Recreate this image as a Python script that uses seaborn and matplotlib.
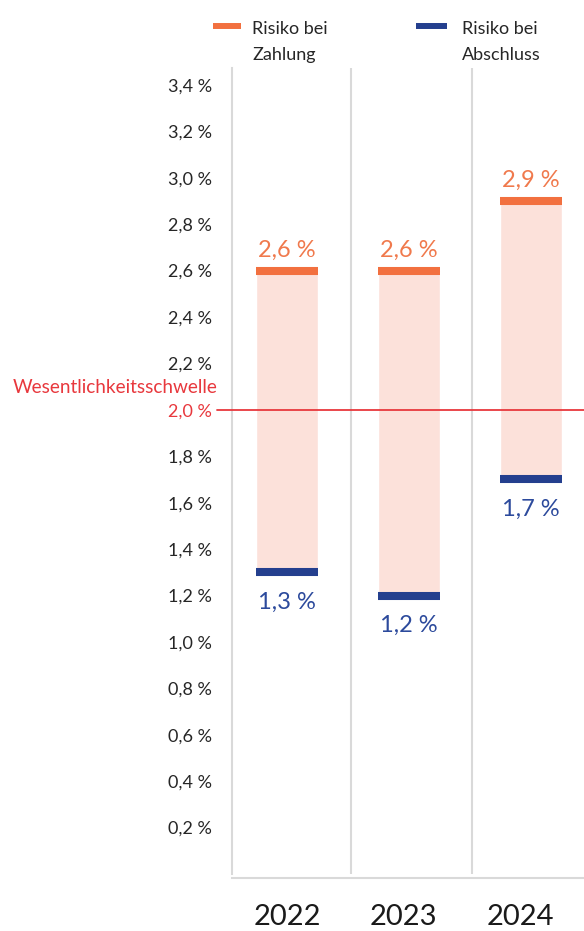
import matplotlib
matplotlib.use("Agg")
import matplotlib.pyplot as plt
from matplotlib.lines import Line2D
import numpy as np
import pandas as pd
import seaborn as sns

# Risk rates per year (in %)
years = ["2022", "2023", "2024"]
risk_payment = [2.6, 2.6, 2.9]    # Risiko bei Zahlung
risk_closing = [1.3, 1.2, 1.7]    # Risiko bei Abschluss
series_labels = ["Risiko bei\nZahlung", "Risiko bei\nAbschluss"]
threshold = 2.0
threshold_label = "Wesentlichkeitsschwelle"
y_ticks = [0.2, 0.4, 0.6, 0.8, 1.0, 1.2, 1.4, 1.6, 1.8, 2.0,
           2.2, 2.4, 2.6, 2.8, 3.0, 3.2, 3.4]

ORANGE = "#F2703F"
ORANGE_TXT = "#F0794C"
BLUE = "#243F8E"
BLUE_TXT = "#2C4A9C"
PINK = "#FCE1DA"
RED = "#E8383D"
GRID = "#D9D9D9"
TXT = "#262626"


def pct(v):
    return f"{v:.1f} %".replace(".", ",")


df = pd.DataFrame({"year": years, "low": risk_closing, "high": risk_payment})
df["span"] = df["high"] - df["low"]

sns.set_theme(style="white")
plt.rcParams["font.family"] = ["Lato", "DejaVu Sans"]

W, H = 584, 931
fig = plt.figure(figsize=(W / 100, H / 100), dpi=100)
ax = fig.add_axes([232 / W, 57 / H, 352 / W, 806 / H])

bar_w = 0.508
# range between the two risk values
sns.barplot(data=df, x="year", y="span", order=years, bottom=df["low"].tolist(),
            color=PINK, saturation=1, width=bar_w, ax=ax, zorder=2)

xs = np.arange(len(years))
cap_lw = 5.8
ax.hlines(df["high"], xs - bar_w / 2, xs + bar_w / 2, colors=ORANGE,
          lw=cap_lw, capstyle="butt", zorder=3)
ax.hlines(df["low"], xs - bar_w / 2, xs + bar_w / 2, colors=BLUE,
          lw=cap_lw, capstyle="butt", zorder=3)

for x, hi, lo in zip(xs, df["high"], df["low"]):
    ax.annotate(pct(hi), (x, hi), xytext=(0, 10), textcoords="offset points",
                ha="center", va="baseline", color=ORANGE_TXT, fontsize=17)
    ax.annotate(pct(lo), (x, lo), xytext=(0, -26), textcoords="offset points",
                ha="center", va="baseline", color=BLUE_TXT, fontsize=17)

# materiality threshold
ax.axhline(threshold, xmin=-0.043, xmax=1, color=RED, lw=1.3,
           clip_on=False, zorder=4)
ax.annotate(threshold_label, xy=(-0.04, threshold),
            xycoords=("axes fraction", "data"), xytext=(0, 12),
            textcoords="offset points", ha="right", va="baseline",
            color=RED, fontsize=13.7)

ax.set_xlim(-0.451, 2.434)
ax.set_ylim(0, 3.473)
ax.set_xlabel("")
ax.set_ylabel("")

ax.set_yticks(y_ticks, labels=[pct(v) for v in y_ticks])
for lab in ax.get_yticklabels():
    lab.set_color(RED if lab.get_text() == pct(threshold) else TXT)
ax.tick_params(axis="y", length=0, pad=14.4, labelsize=13)

# year labels, set slightly left of each column centre
ax.set_xticks(xs, labels=[""] * len(years))
ax.tick_params(axis="x", which="major", length=0)
for x, yr, dx in zip(xs, years, [0, -4, -8]):
    ax.annotate(yr, xy=(x, 0), xycoords=("data", "axes fraction"),
                xytext=(dx, -37), textcoords="offset points",
                ha="center", va="baseline", fontsize=21, color="#1A1A1A")

# column separators
ax.set_xticks([0.525, 1.516], minor=True)
ax.tick_params(axis="x", which="minor", length=0)
ax.grid(False)
ax.xaxis.grid(True, which="minor", color=GRID, lw=1.5, zorder=0)

for side in ("top", "right"):
    ax.spines[side].set_visible(False)
ax.spines["left"].set_color(GRID)
ax.spines["left"].set_linewidth(1.5)
ax.spines["bottom"].set_color(GRID)
ax.spines["bottom"].set_linewidth(1.5)
ax.spines["bottom"].set_position(("outward", 3))

# legend
legend_items = [(ORANGE, 213, 241, 252), (BLUE, 416, 447, 462)]
for (col, hx0, hx1, tx), label in zip(legend_items, series_labels):
    fig.add_artist(Line2D([hx0 / W, hx1 / W], [1 - 26 / H, 1 - 26 / H],
                          transform=fig.transFigure, color=col, lw=4.3,
                          solid_capstyle="butt"))
    for i, line in enumerate(label.split("\n")):
        fig.text(tx / W, 1 - (34 + 26 * i) / H, line, ha="left",
                 va="baseline", fontsize=13, color=TXT)

fig.savefig("out.png", dpi=100)
